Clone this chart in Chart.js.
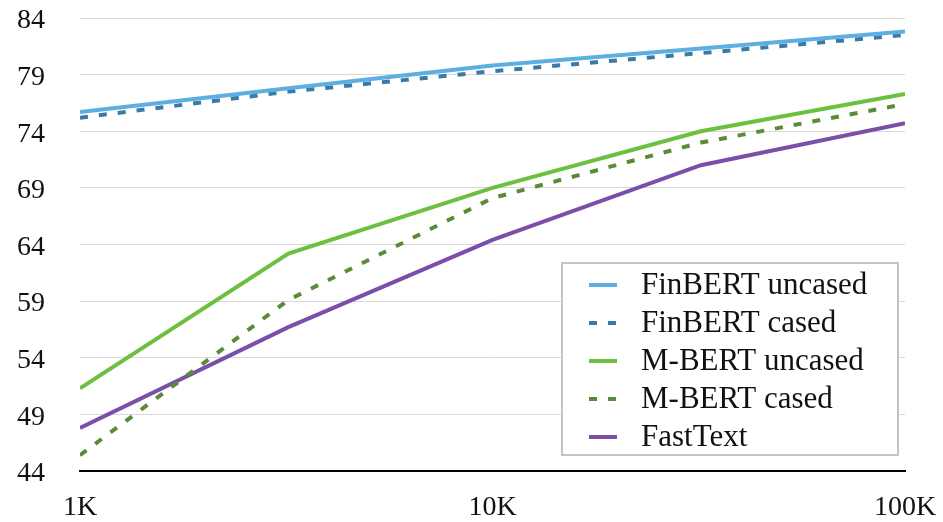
<!DOCTYPE html>
<html>
<head>
<meta charset="utf-8">
<style>
  html, body { margin: 0; padding: 0; background: #ffffff; }
  #wrap { width: 943px; height: 522px; }
</style>
<script src="https://cdn.jsdelivr.net/npm/chart.js@4/dist/chart.umd.min.js"></script>
</head>
<body>
<div id="wrap"><canvas id="chart" width="943" height="522"></canvas></div>
<script>
  // training set sizes (log axis)
  const sizes = [1000, 3200, 10000, 32000, 100000];
  const xTickValues = [1000, 10000, 100000];
  const xTickLabels = ["1K", "10K", "100K"];

  const seriesNames = ["FinBERT uncased", "FinBERT cased", "M-BERT uncased", "M-BERT cased", "FastText"];
  const finbertUncased = [75.7, 77.8, 79.8, 81.3, 82.8];
  const finbertCased = [75.2, 77.5, 79.3, 80.9, 82.5];
  const mbertUncased = [51.3, 63.2, 69.0, 74.0, 77.3];
  const mbertCased = [45.4, 59.1, 68.1, 73.0, 76.4];
  const fastText = [47.8, 56.7, 64.4, 71.0, 74.7];

  const yMin = 44, yMax = 84, yStep = 5;

  const FONT = '"Liberation Serif", "Times New Roman", serif';

  function toPoints(values) {
    return values.map((v, i) => ({ x: sizes[i], y: v }));
  }

  function makeSet(label, values, color, dashed) {
    return {
      label: label,
      data: toPoints(values),
      borderColor: color,
      backgroundColor: color,
      borderWidth: 4,
      borderDash: dashed ? [8, 11] : [],
      pointRadius: 0,
      tension: 0,
      fill: false,
    };
  }

  // legend drawn inside the plot, boxed, like the original figure
  const boxLegend = {
    id: "boxLegend",
    afterDatasetsDraw(chart) {
      const ctx = chart.ctx;
      const left = 562, top = 263, right = 898, bottom = 455;
      ctx.save();
      ctx.fillStyle = "#ffffff";
      ctx.fillRect(left, top, right - left, bottom - top);
      ctx.strokeStyle = "#c4c4c4";
      ctx.lineWidth = 2;
      ctx.strokeRect(left, top, right - left, bottom - top);

      ctx.font = "31px " + FONT;
      ctx.textBaseline = "middle";
      ctx.fillStyle = "#111111";
      chart.data.datasets.forEach((ds, i) => {
        const cy = 285 + i * 38;
        ctx.beginPath();
        ctx.strokeStyle = ds.borderColor;
        ctx.lineWidth = 4;
        ctx.setLineDash(ds.borderDash || []);
        ctx.moveTo(589, cy);
        ctx.lineTo(617, cy);
        ctx.stroke();
        ctx.setLineDash([]);
        ctx.fillText(ds.label, 641, cy + 1);
      });
      ctx.restore();
    },
  };

  new Chart(document.getElementById("chart"), {
    type: "line",
    data: {
      datasets: [
        makeSet(seriesNames[0], finbertUncased, "#5dafe2", false),
        makeSet(seriesNames[1], finbertCased, "#3b7aa6", true),
        makeSet(seriesNames[2], mbertUncased, "#6cbf3f", false),
        makeSet(seriesNames[3], mbertCased, "#5b8a38", true),
        makeSet(seriesNames[4], fastText, "#7a4fa9", false),
      ],
    },
    options: {
      responsive: false,
      animation: false,
      layout: { padding: { top: 18, right: 38, left: 17, bottom: 0 } },
      plugins: {
        legend: { display: false },
        tooltip: { enabled: false },
      },
      scales: {
        x: {
          type: "logarithmic",
          min: 1000,
          max: 100000,
          afterBuildTicks: (scale) => {
            scale.ticks = xTickValues.map((v) => ({ value: v }));
          },
          afterFit: (scale) => { scale.height = 51; },
          grid: { display: false, drawTicks: false },
          border: { color: "#000000", width: 2 },
          ticks: {
            autoSkip: false,
            maxRotation: 0,
            padding: 0,
            color: "#111111",
            // tall line box pushes the labels down below the axis
            font: { family: FONT, size: 28, lineHeight: 2.6 },
            callback: (value) => {
              const i = xTickValues.indexOf(value);
              return i >= 0 ? xTickLabels[i] : "";
            },
          },
        },
        y: {
          min: yMin,
          max: yMax,
          afterFit: (scale) => { scale.width = 63; },
          grid: { color: "#d9d9d9", lineWidth: 1, drawTicks: false },
          border: { display: false },
          ticks: {
            stepSize: yStep,
            padding: 0,
            crossAlign: "far",
            labelOffset: 3,
            color: "#111111",
            font: { family: FONT, size: 28 },
          },
        },
      },
    },
    plugins: [boxLegend],
  });
</script>
</body>
</html>
